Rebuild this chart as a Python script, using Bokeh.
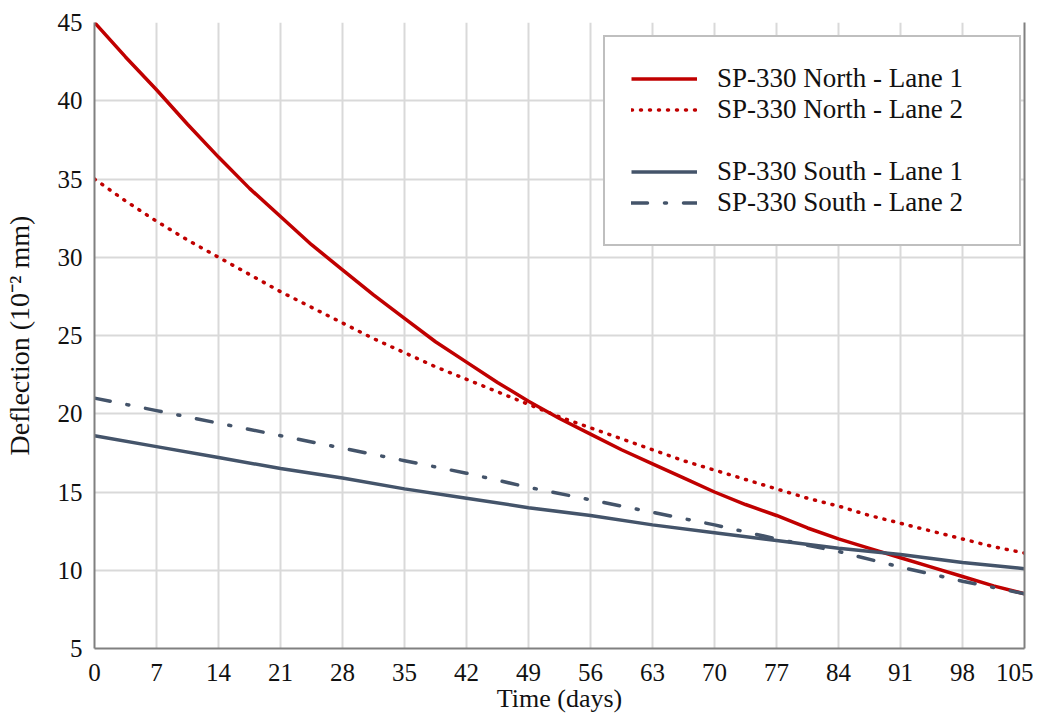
from bokeh.plotting import figure
from bokeh.models import (Range1d, FixedTicker, LinearAxis, Legend, LegendItem)
from bokeh.embed import file_html
from bokeh.resources import INLINE

# ---- data ----
north_days = [0, 3.5, 7, 10.5, 14, 17.5, 21, 24.5, 28, 31.5, 35, 38.5, 42, 45.5, 49, 52.5,
              56, 59.5, 63, 66.5, 70, 73.5, 77, 80.5, 84, 87.5, 91, 94.5, 98, 101.5, 105]
north_lane1 = [45.0, 42.8, 40.7, 38.5, 36.4, 34.4, 32.6, 30.8, 29.2, 27.6, 26.1, 24.6, 23.3,
               22.0, 20.8, 19.7, 18.7, 17.7, 16.8, 15.9, 15.0, 14.2, 13.5, 12.7, 12.0, 11.4,
               10.8, 10.2, 9.6, 9.0, 8.5]
north_lane2 = [35.0, 33.6, 32.3, 31.1, 30.0, 28.9, 27.8, 26.8, 25.8, 24.8, 23.9, 23.0, 22.2,
               21.4, 20.6, 19.8, 19.1, 18.4, 17.7, 17.0, 16.4, 15.8, 15.2, 14.6, 14.1, 13.5,
               13.0, 12.5, 12.0, 11.5, 11.1]
south_days = [0, 7, 14, 21, 28, 35, 42, 49, 56, 63, 70, 77, 84, 91, 98, 105]
south_lane1 = [18.6, 17.9, 17.2, 16.5, 15.9, 15.2, 14.6, 14.0, 13.5, 12.9, 12.4, 11.9, 11.4, 11.0, 10.5, 10.1]
south_lane2 = [21.0, 20.2, 19.4, 18.6, 17.8, 17.0, 16.2, 15.3, 14.5, 13.7, 12.9, 12.0, 11.2, 10.2, 9.3, 8.5]
labels = ["SP-330 North - Lane 1", "SP-330 North - Lane 2",
          "SP-330 South - Lane 1", "SP-330 South - Lane 2"]
x_ticks = list(range(0, 106, 7))
y_ticks = list(range(5, 46, 5))

RED = "#C00000"
SLATE = "#44546A"
GRID = "#D9D9D9"
AXIS = "#808080"
FONT = "Liberation Serif"

p = figure(width=1033, height=718, output_backend="svg", toolbar_location=None,
           x_range=Range1d(0, 105), y_range=Range1d(5, 45),
           min_border_left=93, min_border_right=9, min_border_top=22,
           min_border_bottom=70, background_fill_color="white",
           border_fill_color="white")
p.outline_line_color = None

for ax in (p.xaxis[0], p.yaxis[0]):
    ax.major_tick_line_color = None
    ax.minor_tick_line_color = None
    ax.axis_line_color = AXIS
    ax.axis_line_width = 2
    ax.major_label_text_font = FONT
    ax.major_label_text_font_size = "25px"
    ax.major_label_text_color = "#111111"
    ax.axis_label_text_font = FONT
    ax.axis_label_text_font_style = "normal"
    ax.axis_label_text_color = "#111111"

p.xaxis.axis_label_text_font_size = "26px"
p.yaxis.axis_label_text_font_size = "28px"
p.xaxis.ticker = FixedTicker(ticks=x_ticks)
p.yaxis.ticker = FixedTicker(ticks=y_ticks)
p.xaxis.axis_label = "Time (days)"
p.yaxis.axis_label = "Deflection (10\u207b\u00b2 mm)"
p.xaxis.major_label_standoff = 9
p.xaxis.axis_label_standoff = 0
p.yaxis.major_label_standoff = 6
p.yaxis.axis_label_standoff = 20

# right border
rax = LinearAxis(ticker=FixedTicker(ticks=[]), axis_line_color=AXIS, axis_line_width=2,
                 major_tick_line_color=None, minor_tick_line_color=None,
                 major_tick_out=0, major_label_standoff=0,
                 major_label_text_font_size="0px")
p.add_layout(rax, "right")

p.xgrid.grid_line_color = GRID
p.ygrid.grid_line_color = GRID
p.xgrid.grid_line_width = 2
p.ygrid.grid_line_width = 2
p.xgrid.ticker = FixedTicker(ticks=x_ticks)
p.ygrid.ticker = FixedTicker(ticks=y_ticks)

r1 = p.line(north_days, north_lane1, line_color=RED, line_width=3.5, line_join="round")
r2 = p.line(north_days, north_lane2, line_color=RED, line_width=3.5, line_dash="1 8",
            line_cap="round")
r3 = p.line(south_days, south_lane1, line_color=SLATE, line_width=3.5, line_join="round")
r4 = p.line(south_days, south_lane2, line_color=SLATE, line_width=3.5, line_dash="16 17 2 17",
            line_cap="round")
rblank = p.line([], [], line_alpha=0)

legend = Legend(items=[
    LegendItem(label=labels[0], renderers=[r1]),
    LegendItem(label=labels[1], renderers=[r2]),
    LegendItem(label=" ", renderers=[rblank]),
    LegendItem(label=labels[2], renderers=[r3]),
    LegendItem(label=labels[3], renderers=[r4]),
], location=(509, 402))
legend.label_text_font = FONT
legend.label_text_font_size = "27px"
legend.label_text_color = "#111111"
legend.label_height = 31
legend.glyph_height = 31
legend.glyph_width = 66
legend.label_standoff = 20
legend.label_width = 276
legend.padding = 26
legend.spacing = 0
legend.margin = 0
legend.border_line_color = AXIS
legend.border_line_width = 2
legend.background_fill_color = "white"
legend.background_fill_alpha = 1
p.add_layout(legend, "center")

open("out.html", "w").write(file_html(p, INLINE))
